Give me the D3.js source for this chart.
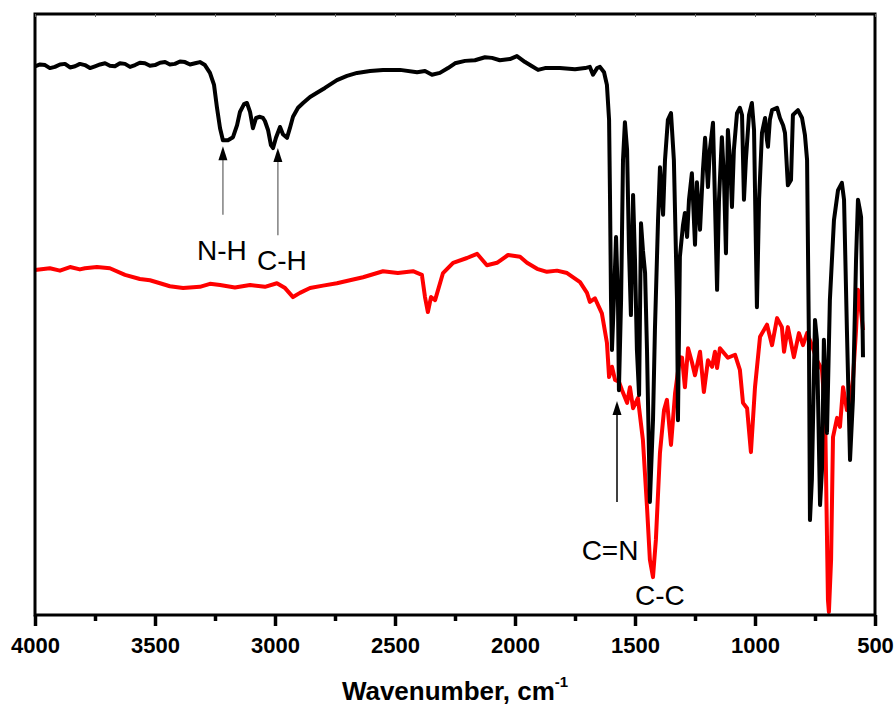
<!DOCTYPE html>
<html>
<head>
<meta charset="utf-8">
<script src="https://cdn.jsdelivr.net/npm/d3@7"></script>
<style>
  body { margin: 0; background: #fff; }
  svg { display: block; }
  text { font-family: "Liberation Sans", Arial, sans-serif; }
</style>
</head>
<body>
<svg></svg>
<script>
// black spectrum (before), wavenumber cm-1 / transmittance a.u.
const blackWn = [4000,3979,3958,3938,3917,3896,3875,3854,3833,3813,3792,3771,3750,3729,3708,3688,3667,3646,3625,3604,3583,3563,3542,3521,3500,3479,3458,3438,3417,3396,3375,3354,3333,3313,3292,3271,3254,3242,3229,3217,3196,3175,3158,3146,3129,3117,3104,3092,3079,3063,3050,3042,3029,3017,3008,2996,2979,2967,2950,2938,2925,2904,2883,2854,2825,2792,2742,2700,2658,2604,2550,2479,2408,2375,2346,2313,2279,2250,2208,2167,2125,2096,2063,2021,1992,1958,1929,1904,1875,1813,1750,1708,1688,1675,1658,1646,1629,1617,1608,1604,1600,1596,1588,1579,1571,1567,1558,1550,1542,1533,1525,1517,1508,1500,1492,1483,1475,1467,1458,1450,1438,1425,1417,1404,1396,1383,1375,1363,1350,1338,1325,1321,1313,1300,1292,1283,1275,1263,1250,1242,1229,1217,1208,1196,1188,1175,1167,1158,1150,1138,1129,1121,1113,1104,1096,1088,1075,1063,1054,1046,1038,1025,1013,1004,996,992,983,971,958,950,946,938,929,908,896,883,875,863,850,842,821,804,792,783,775,771,763,750,742,729,721,713,700,688,671,654,638,629,625,617,604,592,579,571,563,558,550];
const blackT = [91.3,91.6,91.5,91.0,91.2,91.6,91.7,91.1,91.3,91.7,91.5,91.0,91.3,91.6,91.8,91.4,91.3,91.8,91.7,91.2,91.5,91.9,91.8,91.4,91.5,91.9,92.0,91.6,91.7,92.1,92.0,91.6,91.8,92.0,91.5,90.2,88.2,84.5,81.0,79.0,79.0,79.5,81.5,83.7,85.0,85.2,83.7,81.0,82.7,82.9,82.7,82.2,80.7,78.2,77.7,79.4,81.2,80.0,79.4,81.0,82.9,84.4,85.2,86.2,86.9,87.7,89.0,89.7,90.2,90.5,90.7,90.7,90.3,90.5,89.9,90.2,91.0,91.8,92.2,92.3,92.8,92.7,92.3,92.5,93.0,92.0,91.3,90.7,91.0,91.0,90.8,91.0,91.2,89.9,91.0,91.2,90.3,88.2,82.4,69.1,52.4,44.1,52.4,62.9,52.4,37.4,52.4,75.7,82.0,77.4,60.7,49.9,69.9,59.1,44.1,36.6,65.2,60.7,56.9,44.1,18.8,32.4,47.4,65.7,74.5,66.6,75.7,82.4,83.5,75.7,52.4,32.4,59.6,64.9,66.9,62.9,69.1,73.5,61.6,72.0,64.1,74.0,79.4,71.2,77.4,81.9,69.1,54.1,69.1,79.5,72.4,60.2,80.7,75.7,67.9,77.4,83.5,84.4,83.2,69.1,75.7,83.2,85.2,80.7,60.7,51.2,69.1,80.2,82.7,79.0,77.9,82.4,84.0,84.4,82.7,81.5,80.2,71.5,72.4,83.2,84.0,82.7,79.9,75.7,44.1,15.8,22.5,49.1,45.8,18.3,24.1,45.8,30.3,52.4,65.7,70.7,71.9,69.1,61.9,47.4,25.8,35.8,59.1,69.1,67.4,66.2,42.9];

// red spectrum (after)
const redWn = [4000,3938,3896,3854,3813,3792,3742,3688,3625,3563,3521,3479,3438,3383,3313,3271,3229,3167,3104,3042,2992,2958,2925,2896,2854,2800,2742,2688,2633,2550,2488,2425,2388,2375,2363,2350,2333,2300,2258,2200,2158,2117,2075,2029,1979,1950,1908,1867,1825,1783,1729,1700,1688,1667,1638,1617,1608,1596,1583,1567,1554,1533,1521,1508,1488,1467,1450,1438,1425,1413,1396,1379,1367,1350,1333,1313,1304,1292,1279,1263,1250,1229,1213,1196,1179,1167,1158,1146,1113,1083,1063,1050,1033,1017,1000,979,950,929,908,888,879,863,838,817,800,783,763,742,721,708,696,692,683,675,658,646,633,617,604,592,579,571,563,550];
const redT = [57.4,57.7,57.3,57.9,57.5,57.7,57.9,57.7,56.6,55.9,55.7,55.2,54.7,54.4,54.6,55.1,54.9,54.5,54.9,54.6,55.2,54.4,52.9,53.6,54.4,54.8,55.2,55.7,56.2,57.2,56.9,57.2,56.6,52.9,50.4,52.9,52.4,56.9,58.6,59.4,60.1,58.2,58.6,59.9,59.6,58.6,57.6,57.1,57.3,56.9,55.4,53.6,52.1,52.7,50.2,45.3,39.6,41.3,39.1,38.8,37.4,35.3,37.9,34.4,36.1,29.1,18.0,9.2,6.3,12.5,27.0,34.1,35.8,28.3,36.9,42.9,42.8,37.9,44.4,42.1,39.9,43.8,37.1,42.4,41.3,43.8,41.1,44.4,42.8,43.3,40.8,35.3,34.4,27.1,37.9,46.3,48.3,44.9,49.4,47.9,43.8,47.9,42.9,46.9,44.9,46.9,44.9,42.4,40.8,33.6,2.5,0.5,9.2,29.6,32.8,31.3,37.9,34.1,35.8,39.1,47.4,54.1,52.4,47.4];

const majorTicks = [4000,3500,3000,2500,2000,1500,1000,500];
const minorTicks = [3750,3250,2750,2250,1750,1250,750];

const bandLabels = [
  {text: 'N-H', wn: 3221, t: 59.1},
  {text: 'C-H', wn: 2971, t: 57.4},
  {text: 'C=N', wn: 1604, t: 9.2},
  {text: 'C-C', wn: 1396, t: 1.7}
];
const bandArrows = [
  {wn: 3217, from: 66.6, to: 78.0, shaft: '#808080'},
  {wn: 2988, from: 63.2, to: 77.7, shaft: '#808080'},
  {wn: 1575, from: 18.8, to: 35.6, shaft: '#000'}
];

const svg = d3.select('svg').attr('width', 894).attr('height', 708);
const x = d3.scaleLinear().domain([4000, 500]).range([35, 875]);
const y = d3.scaleLinear().domain([0, 100]).range([615, 14]);

const line = d3.line().x(d => x(d[0])).y(d => y(d[1]));

svg.append('path')
  .datum(d3.zip(redWn, redT))
  .attr('d', line)
  .attr('fill', 'none')
  .attr('stroke', '#ff0000')
  .attr('stroke-width', 4)
  .attr('stroke-linejoin', 'round');

svg.append('path')
  .datum(d3.zip(blackWn, blackT))
  .attr('d', line)
  .attr('fill', 'none')
  .attr('stroke', '#000')
  .attr('stroke-width', 4)
  .attr('stroke-linejoin', 'round');

// frame
svg.append('rect')
  .attr('x', 35).attr('y', 14)
  .attr('width', 840).attr('height', 601)
  .attr('fill', 'none')
  .attr('stroke', '#000')
  .attr('stroke-width', 3);

// top tiny ticks
const topAxis = svg.append('g')
  .attr('transform', 'translate(0,14)')
  .call(d3.axisTop(x).tickValues(majorTicks.concat(minorTicks)).tickSize(-3).tickFormat(''));
topAxis.select('.domain').remove();
topAxis.selectAll('line').attr('stroke', '#666').attr('stroke-width', 1);

// bottom axis
const bottom = svg.append('g')
  .attr('transform', 'translate(0,615)')
  .call(d3.axisBottom(x).tickValues(majorTicks).tickSize(11).tickFormat(d3.format('d')));
bottom.select('.domain').remove();
bottom.selectAll('line').attr('stroke-width', 3.5);
bottom.selectAll('text')
  .attr('y', 22)
  .attr('font-size', 22)
  .attr('font-weight', 'bold')
  .attr('font-family', '"Liberation Sans", Arial, sans-serif')
  .attr('fill', '#000');

const minor = svg.append('g')
  .attr('transform', 'translate(0,615)')
  .call(d3.axisBottom(x).tickValues(minorTicks).tickSize(6).tickFormat(''));
minor.select('.domain').remove();
minor.selectAll('line').attr('stroke-width', 3.5);

// x title
const title = svg.append('text')
  .attr('x', 455).attr('y', 700)
  .attr('text-anchor', 'middle')
  .attr('font-size', 26)
  .attr('font-weight', 'bold');
title.append('tspan').text('Wavenumber, cm');
title.append('tspan').attr('dy', -13).attr('font-size', 15).text('-1');

// annotations
svg.selectAll('.arrow-shaft').data(bandArrows)
  .enter().append('line')
  .attr('x1', d => x(d.wn)).attr('x2', d => x(d.wn))
  .attr('y1', d => y(d.from)).attr('y2', d => y(d.to) + 12)
  .attr('stroke', d => d.shaft)
  .attr('stroke-width', 1.5);

svg.selectAll('.arrow-head').data(bandArrows)
  .enter().append('path')
  .attr('d', d => {
    const cx = x(d.wn), ty = y(d.to);
    return `M${cx},${ty} L${cx - 4.5},${ty + 14} L${cx + 4.5},${ty + 14} Z`;
  })
  .attr('fill', '#000');

svg.selectAll('.band-label').data(bandLabels)
  .enter().append('text')
  .attr('x', d => x(d.wn))
  .attr('y', d => y(d.t))
  .attr('text-anchor', 'middle')
  .attr('font-size', 28)
  .attr('fill', '#000')
  .text(d => d.text);
</script>
</body>
</html>
